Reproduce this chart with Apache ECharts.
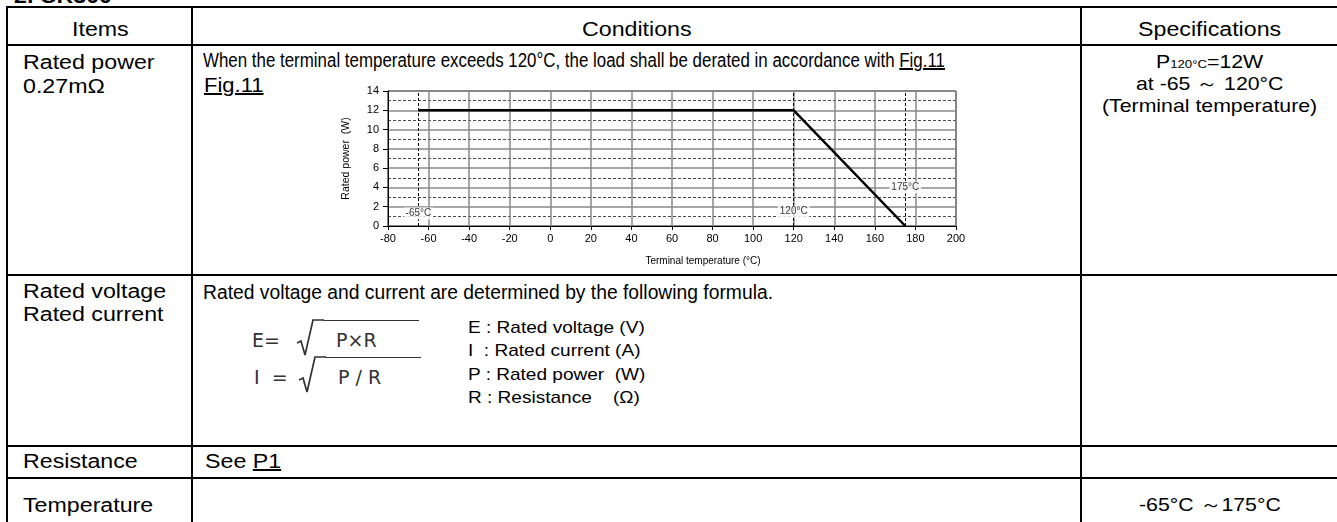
<!DOCTYPE html>
<html><head><meta charset="utf-8">
<script src="https://cdn.jsdelivr.net/npm/echarts@6/dist/echarts.min.js"></script>
<style>
html,body{margin:0;padding:0;background:#fff;}
body{width:1337px;height:522px;position:relative;overflow:hidden;font-family:"Liberation Sans",Arial,sans-serif;color:#000;}
.h{position:absolute;height:2px;background:#000;}
.v{position:absolute;width:2px;background:#000;}
.t{position:absolute;white-space:nowrap;line-height:1;}
.s{display:inline-block;}
.f{position:absolute;font-family:"DejaVu Sans",sans-serif;color:#333;white-space:nowrap;line-height:1;}
#chart{position:absolute;left:0;top:0;width:1337px;height:522px;}
sub{font-size:0.62em;vertical-align:baseline;position:relative;top:0.05em;}
.n{font-family:"Liberation Sans Narrow","Liberation Sans",Arial,sans-serif;}
</style></head><body>
<div id="layer"></div>
<div id="chart"></div>
<script>
// ---- chart data ----
const xMin = -80, xMax = 200, xStep = 20;
const yMin = 0, yMax = 14, yStep = 2;
const curveTemp = [-65, 120, 175];
const curvePower = [12, 12, 0];
const markTemps = [-65, 120, 175];
const markLabels = ['-65°C', '120°C', '175°C'];
const markLabelPower = [1.3, 1.5, 4.0];

// ---- table layout ----
const layer = document.getElementById('layer');
function hline(y, x1, x2){const d=document.createElement('div');d.className='h';d.style.top=(y-1)+'px';d.style.left=x1+'px';d.style.width=(x2-x1)+'px';layer.appendChild(d);}
function vline(x, y1, y2){const d=document.createElement('div');d.className='v';d.style.left=(x-1)+'px';d.style.top=y1+'px';d.style.height=(y2-y1)+'px';layer.appendChild(d);}
[7,45,275,446,478].forEach(y=>hline(y,6,1337));
[7,192,1081].forEach(x=>vline(x,6,522));

function text(html, x, cy, fs, sx, align, fit, cls){
  const d=document.createElement('div');d.className='t'+(cls?' '+cls:'');
  const s=document.createElement('span');s.className='s';s.innerHTML=html;
  s.style.fontSize=fs+'px';
  d.appendChild(s);layer.appendChild(d);
  const w=s.getBoundingClientRect().width;
  if(fit) sx=fit/w;
  const ow=w*sx;
  d.style.top=(cy-0.49*fs)+'px';
  d.style.left=(align==='c'?x-ow/2:x)+'px';
  s.style.transformOrigin='0 50%';
  s.style.transform='scaleX('+sx+')';
}
text('<b>2. CR300</b>', 14, -4, 20, 1.16, 'l');
text('Items', 100, 29, 20, 1.16, 'c');
text('Conditions', 637, 29, 20, 1.16, 'c');
text('Specifications', 1210, 29, 20, 1.16, 'c');
text('Rated power', 23, 62, 20, 1.16, 'l');
text('0.27mΩ', 23, 86, 20, 1.16, 'l');
text('When the terminal temperature exceeds 120°C, the load shall be derated in accordance with <u>Fig.11</u>', 203, 60, 20, 1, 'l', 742, 'n');
text('<u>Fig.11</u>', 204, 85, 20, 1.1, 'l');
text('P<sub>120°C</sub>=12W', 1210, 62, 18.5, 1.15, 'c');
text('at -65 ～ 120°C', 1210, 84, 18.5, 1.15, 'c');
text('(Terminal temperature)', 1210, 106, 18.5, 1.15, 'c');
text('Rated voltage', 23, 291, 20, 1.16, 'l');
text('Rated current', 23, 314, 20, 1.16, 'l');
text('Rated voltage and current are determined by the following formula.', 203, 292, 20, 1, 'l', 570, 'n');
text('E : Rated voltage (V)', 468, 327, 17, 1.12, 'l');
text('I &nbsp;: Rated current (A)', 468, 350, 17, 1.12, 'l');
text('P : Rated power &nbsp;(W)', 468, 374, 17, 1.12, 'l');
text('R : Resistance &nbsp;&nbsp;&nbsp;(Ω)', 468, 397, 17, 1.12, 'l');
text('Resistance', 23, 461, 20, 1.16, 'l');
text('See <u>P1</u>', 205, 461, 20, 1.16, 'l');
text('Temperature', 23, 505, 20, 1.16, 'l');
text('-65°C ～175°C', 1210, 505, 18.5, 1.15, 'c');

// formulas
function formula(lhs, rhs, x, cy){
  const d=document.createElement('div');d.className='f';
  d.style.left=x+'px';d.style.top=(cy-10)+'px';d.style.fontSize='19px';
  d.innerHTML='<span style="display:inline-block;width:44px">'+lhs+'</span>'+
   '<svg width="30" height="38" style="position:absolute;left:42px;top:-12px" viewBox="0 0 30 38"><polyline points="3,24 7,22 11,36 19,1 30,1" fill="none" stroke="#333" stroke-width="1.7"/></svg>'+
   '<span style="position:absolute;left:71px;top:-11px;width:96px;border-top:1.7px solid #333;"></span>'+
   '<span style="position:absolute;left:84px;top:0">'+rhs+'</span>';
  layer.appendChild(d);
}
formula('E=', 'P×R', 252, 341);
formula('I &nbsp;=', 'P / R', 254, 378);

// ---- chart ----
const chart = echarts.init(document.getElementById('chart'), null, {renderer:'canvas'});
const font = '"Liberation Sans", Arial, sans-serif';
chart.setOption({
  animation:false,
  backgroundColor:'transparent',
  grid:{left:388, right:381, top:91, bottom:296, show:true, borderColor:'#000', borderWidth:1, backgroundColor:'transparent'},
  xAxis:{type:'value', min:xMin, max:xMax, interval:xStep,
    name:'Terminal temperature (°C)', nameLocation:'middle', nameGap:30,
    nameTextStyle:{fontSize:10, color:'#000', fontFamily:font, padding:[0,0,0,62]},
    axisLine:{show:true, onZero:false, lineStyle:{color:'#000', width:1}},
    axisTick:{show:true, length:4, lineStyle:{color:'#000'}},
    axisLabel:{fontSize:11, color:'#000', fontFamily:font, margin:7},
    splitLine:{show:true, lineStyle:{color:'#888', width:1.5}}},
  yAxis:{type:'value', min:yMin, max:yMax, interval:yStep,
    name:'Rated power  (W)', nameLocation:'middle', nameGap:36,
    nameTextStyle:{fontSize:10.5, color:'#000', fontFamily:font},
    axisLine:{show:true, onZero:false, lineStyle:{color:'#000', width:1}},
    axisTick:{show:true, length:5, lineStyle:{color:'#000'}},
    axisLabel:{fontSize:11, color:'#000', fontFamily:font, margin:9},
    minorTick:{show:false, splitNumber:2},
    minorSplitLine:{show:true, lineStyle:{color:'#333', width:0.9, type:[3,2]}},
    splitLine:{show:true, lineStyle:{color:'#8a8a8a', width:1.5}}},
  series:[
    {type:'line', data:curveTemp.map((t,i)=>[t,curvePower[i]]), symbol:'none',
     lineStyle:{color:'#000', width:2.5}, z:5,
     markLine:{silent:true, symbol:'none', label:{show:false},
       lineStyle:{color:'#000', width:1, type:[3,2]},
       data:markTemps.map(t=>({xAxis:t}))}},
    {type:'scatter', data:markTemps.map((t,i)=>[t,markLabelPower[i]]), symbolSize:0, z:6,
     label:{show:true, position:'inside', formatter:p=>markLabels[p.dataIndex],
       fontSize:10, color:'#000', fontFamily:font, backgroundColor:'#fff', padding:[1,2]}}
  ]
});
</script>
</body></html>
